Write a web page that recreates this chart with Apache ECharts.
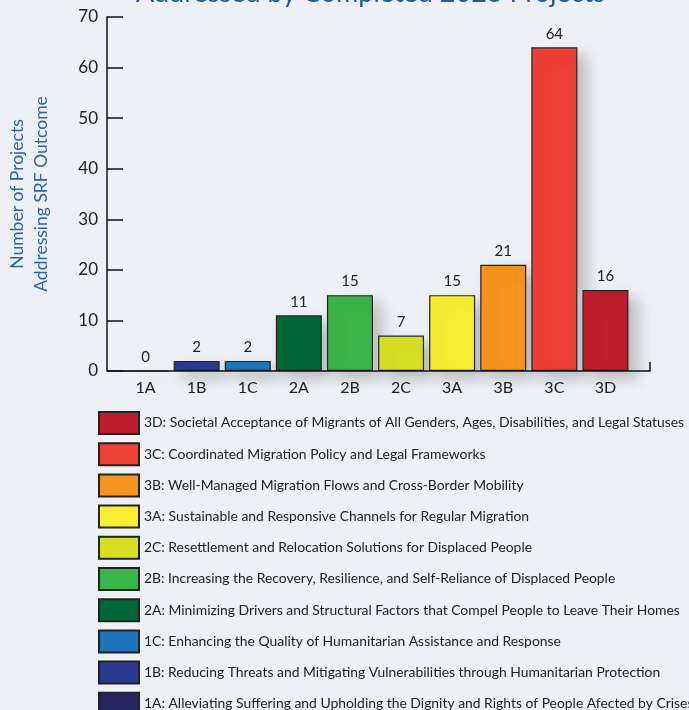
<!DOCTYPE html>
<html>
<head>
<meta charset="utf-8">
<script src="https://cdn.jsdelivr.net/npm/echarts@6/dist/echarts.min.js"></script>
<style>
html,body{margin:0;padding:0;background:#edf1f5;}
#chart{width:689px;height:710px;}
</style>
</head>
<body>
<div id="chart"></div>
<script>
const categories = ['1A','1B','1C','2A','2B','2C','3A','3B','3C','3D'];
const values = [0, 2, 2, 11, 15, 7, 15, 21, 64, 16];
const colors = ['#27255f','#2b3990','#1f75bc','#006838','#3ab54a','#d7df23','#f9ed32','#f7941d','#ef4136','#be1e2d'];
const descriptions = [
  '1A: Alleviating Suffering and Upholding the Dignity and Rights of People Afected by Crises',
  '1B: Reducing Threats and Mitigating Vulnerabilities through Humanitarian Protection',
  '1C: Enhancing the Quality of Humanitarian Assistance and Response',
  '2A: Minimizing Drivers and Structural Factors that Compel People to Leave Their Homes',
  '2B: Increasing the Recovery, Resilience, and Self-Reliance of Displaced People',
  '2C: Resettlement and Relocation Solutions for Displaced People',
  '3A: Sustainable and Responsive Channels for Regular Migration',
  '3B: Well-Managed Migration Flows and Cross-Border Mobility',
  '3C: Coordinated Migration Policy and Legal Frameworks',
  '3D: Societal Acceptance of Migrants of All Genders, Ages, Disabilities, and Legal Statuses'
];
const yTicks = [0, 10, 20, 30, 40, 50, 60, 70];
const titleText = 'Addressed by Completed 2023 Projects';
const yName = 'Number of Projects\nAddressing SRF Outcome';

const FONT = 'Lato';
const chart = echarts.init(document.getElementById('chart'));

const series = categories.map((c, i) => ({
  name: descriptions[i],
  type: 'bar',
  stack: 'all',
  barWidth: '90%',
  data: categories.map((_, j) => j === i ? values[i] : '-'),
  itemStyle: {
    color: colors[i],
    borderColor: '#222',
    borderWidth: 1.2,
    shadowColor: 'rgba(0,0,0,0.22)',
    shadowBlur: 14,
    shadowOffsetX: 9,
    shadowOffsetY: 8
  },
  label: {
    show: true,
    position: 'top',
    distance: 6,
    color: '#222',
    fontFamily: FONT,
    fontSize: 15
  },
  emphasis: { disabled: true }
}));

chart.setOption({
  backgroundColor: '#edf1f5',
  animation: false,
  title: {
    text: titleText,
    left: 131,
    top: -25,
    textStyle: { color: '#1d5aa8', fontFamily: FONT, fontSize: 27, fontWeight: 'normal' }
  },
  grid: { left: 120, right: 58, top: 17, bottom: 339, outerBoundsMode: 'none', containLabel: false },
  legend: {
    orient: 'vertical',
    left: 93,
    top: 406,
    height: 400,
    itemWidth: 40,
    itemHeight: 22,
    itemGap: 7.2,
    data: descriptions.slice().reverse(),
    icon: 'rect',
    textStyle: { color: '#222', fontFamily: FONT, fontSize: 13.9 },
    selectedMode: false
  },
  xAxis: {
    type: 'category',
    data: categories,
    axisLine: { show: false },
    axisTick: { show: false },
    axisLabel: { color: '#222', fontFamily: FONT, fontSize: 16, margin: 9 }
  },
  yAxis: {
    type: 'value',
    min: yTicks[0],
    max: yTicks[yTicks.length - 1],
    interval: 10,
    offset: 13,
    name: yName,
    nameLocation: 'middle',
    nameGap: 54,
    nameTextStyle: { color: '#2a64b0', fontFamily: FONT, fontSize: 17.5, lineHeight: 24 },
    axisLine: { show: true, lineStyle: { color: '#111', width: 1.5 } },
    axisTick: { show: true, inside: true, length: 16, lineStyle: { color: '#111', width: 1.5 } },
    axisLabel: { color: '#222', fontFamily: FONT, fontSize: 17, margin: 9 },
    splitLine: { show: false }
  },
  series: series
});

const y0 = chart.convertToPixel({ yAxisIndex: 0 }, 0);
const xl = chart.convertToPixel({ xAxisIndex: 0 }, categories[0]);
const xr = chart.convertToPixel({ xAxisIndex: 0 }, categories[categories.length - 1]);
const band = (xr - xl) / (categories.length - 1);
const leftX = xl - band / 2 - 13;
const rightX = xr + band / 2 + 19;
chart.setOption({
  graphic: [
    { type: 'polyline', shape: { points: [[leftX, y0], [rightX, y0], [rightX, y0 - 9]] },
      style: { stroke: '#111', lineWidth: 1.5, fill: null }, z: 10 }
  ]
});
</script>
</body>
</html>
